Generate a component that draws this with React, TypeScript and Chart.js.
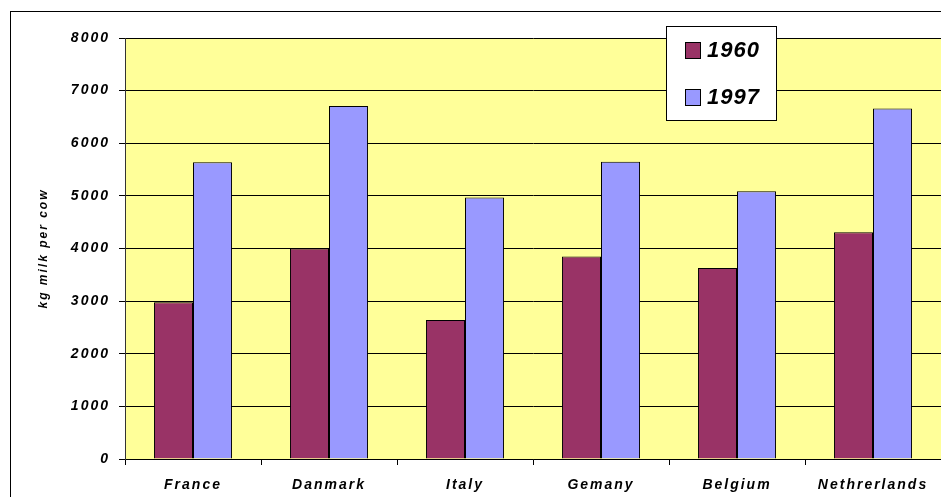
import { useEffect, useRef } from "react";
import { Chart, registerables } from "chart.js";

Chart.register(...registerables);

// Milk yield per cow, by country
const countries = ["France", "Danmark", "Italy", "Gemany", "Belgium", "Nethrerlands"];
const seriesLabels = ["1960", "1997"];
const milk1960 = [2980, 4000, 2640, 3850, 3630, 4310];
const milk1997 = [5640, 6710, 4970, 5650, 5090, 6660];
const yMin = 0;
const yMax = 8000;
const yStep = 1000;

const FONT = "'Liberation Sans', Arial, sans-serif";

const framePlugin = {
  id: "frame",
  beforeDraw(chart: any) {
    const { ctx, chartArea } = chart;
    ctx.save();
    // plot background
    ctx.fillStyle = "#FFFF99";
    ctx.fillRect(chartArea.left, chartArea.top, chartArea.right - chartArea.left, chartArea.bottom - chartArea.top);
    // outer chart border
    ctx.strokeStyle = "#000";
    ctx.lineWidth = 1;
    ctx.strokeRect(10.5, 11.5, chart.width + 20, chart.height + 20);
    ctx.restore();
    ctx.letterSpacing = "2px";
  },
  afterDraw(chart: any) {
    const { ctx } = chart;
    const datasets = chart.data.datasets;
    ctx.save();
    ctx.letterSpacing = "1px";
    // legend box
    const bx = 666.5, by = 26.5, bw = 110, bh = 94;
    ctx.fillStyle = "#fff";
    ctx.fillRect(bx, by, bw, bh);
    ctx.strokeStyle = "#000";
    ctx.lineWidth = 1;
    ctx.strokeRect(bx, by, bw, bh);
    const rowY = [50.5, 97.5];
    datasets.forEach((ds: any, i: number) => {
      const cy = rowY[i];
      ctx.fillStyle = ds.backgroundColor;
      ctx.fillRect(685.5, cy - 8, 15, 16);
      ctx.strokeStyle = "#000";
      ctx.strokeRect(685.5, cy - 8, 15, 16);
      ctx.fillStyle = "#000";
      ctx.font = `italic bold 22px ${FONT}`;
      ctx.textBaseline = "alphabetic";
      ctx.textAlign = "left";
      ctx.fillText(ds.label, 707, cy + 6);
    });
    ctx.restore();
  },
};

export default function App() {
  const canvasRef = useRef<HTMLCanvasElement | null>(null);

  useEffect(() => {
    document.body.style.margin = "0";
    const canvas = canvasRef.current;
    if (!canvas) return;
    const chart = new Chart(canvas, {
      type: "bar",
      data: {
        labels: countries,
        datasets: [
          {
            label: seriesLabels[0],
            data: milk1960,
            backgroundColor: "#993366",
            borderColor: "#000",
            borderWidth: 1,
            borderSkipped: "bottom",
          },
          {
            label: seriesLabels[1],
            data: milk1997,
            backgroundColor: "#9999FF",
            borderColor: "#000",
            borderWidth: 1,
            borderSkipped: "bottom",
          },
        ],
      },
      options: {
        responsive: false,
        animation: false,
        devicePixelRatio: 1,
        layout: { padding: { left: 0, top: 38, right: 0, bottom: 0 } },
        datasets: { bar: { categoryPercentage: 0.574, barPercentage: 1 } },
        plugins: {
          legend: { display: false },
          tooltip: { enabled: false },
        },
        scales: {
          x: {
            offset: true,
            grid: {
              offset: true,
              drawOnChartArea: false,
              drawTicks: true,
              tickLength: 6,
              color: "#000",
            },
            border: { display: true, color: "#000", width: 1 },
            ticks: {
              color: "#000",
              font: { family: FONT, size: 14, style: "italic", weight: "bold" },
              padding: 12,
              maxRotation: 0,
              autoSkip: false,
            },
            afterFit(scale: any) {
              scale.height = 38;
            },
          },
          y: {
            min: yMin,
            max: yMax,
            ticks: {
              stepSize: yStep,
              color: "#000",
              font: { family: FONT, size: 14, style: "italic", weight: "bold" },
              padding: 9,
              callback: (v: any) => String(v),
            },
            grid: {
              color: "#000",
              lineWidth: 1,
              drawTicks: true,
              tickLength: 6,
            },
            border: { display: true, color: "#333", width: 1 },
            title: {
              display: true,
              text: "kg milk per cow",
              color: "#000",
              font: { family: FONT, size: 12, style: "italic", weight: "bold" },
              padding: { top: 36, bottom: 0 },
            },
            afterFit(scale: any) {
              scale.width = 125;
            },
          },
        },
      },
      plugins: [framePlugin],
    });
    return () => chart.destroy();
  }, []);

  return (
    <div style={{ width: 941, height: 497, overflow: "hidden" }}>
      <canvas ref={canvasRef} width={941} height={497} style={{ display: "block" }} />
    </div>
  );
}
